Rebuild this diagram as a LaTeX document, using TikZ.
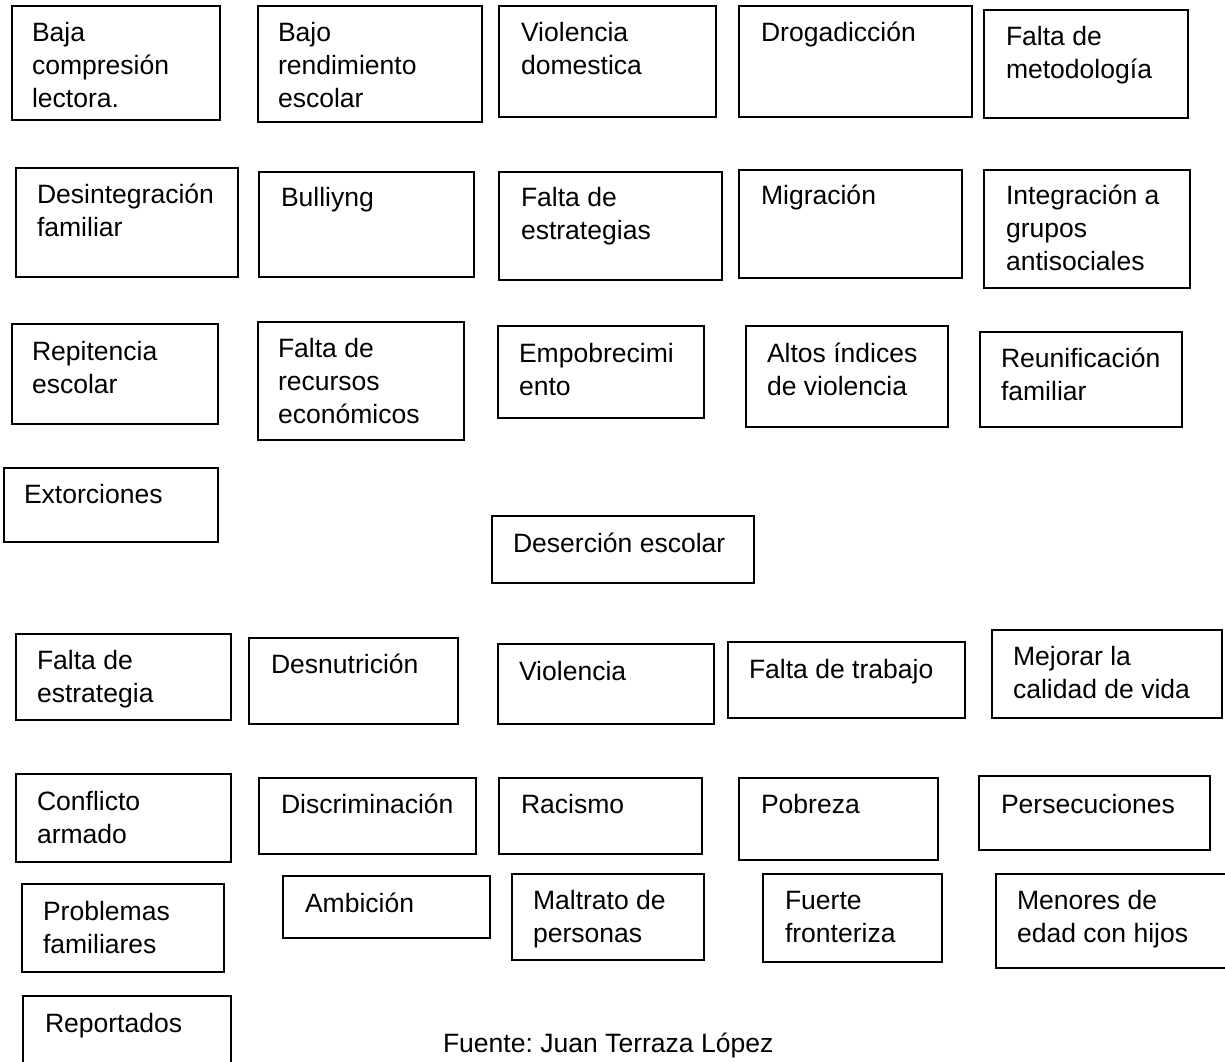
\documentclass[tikz,border=0pt]{standalone}
\usepackage{fontspec}
\setmainfont{Liberation Sans}
\usetikzlibrary{fit}
\tikzset{
  boxst/.style={draw=black, line width=1.3pt, rectangle, inner sep=0pt, outer sep=0pt},
  txtst/.style={inner sep=0pt, outer sep=0pt, align=left, text=black,
    font=\fontsize{19.9pt}{25.1pt}\selectfont\frenchspacing}
}
\newcommand{\mybox}[8]{%
  \node[boxst, fit={(#2,#3) (#4,#5)}] (#1) {};
  \node[txtst, anchor=north west] (#1t) at (#6,{#7-23.4}) {\strut #8};
}
\begin{document}
\begin{tikzpicture}[x=0.75pt, y=-0.75pt]
\path[use as bounding box] (0,0) rectangle (1225,1062);
\fill[white] (0,0) rectangle (1225,1062);
\clip (0,0) rectangle (1225,1062);
% row 1
\mybox{b1}{12}{6}{220}{120}{32}{41}{Baja\\compresión\\lectora.}
\mybox{b2}{258}{6}{482}{122}{278}{41}{Bajo\\rendimiento\\escolar}
\mybox{b3}{499}{6}{716}{117}{521}{41}{Violencia\\domestica}
\mybox{b4}{739}{6}{972}{117}{761}{41}{Drogadicción}
\mybox{b5}{984}{10}{1188}{118}{1006}{45}{Falta de\\metodología}
% row 2
\mybox{b6}{16}{168}{238}{277}{37}{203}{Desintegración\\familiar}
\mybox{b7}{259}{172}{474}{277}{281}{206}{Bulliyng}
\mybox{b8}{499}{172}{722}{280}{521}{206}{Falta de\\estrategias}
\mybox{b9}{739}{170}{962}{278}{761}{204}{Migración}
\mybox{b10}{984}{170}{1190}{288}{1006}{204}{Integración a\\grupos\\antisociales}
% row 3
\mybox{b11}{12}{324}{218}{424}{32}{360}{Repitencia\\escolar}
\mybox{b12}{258}{322}{464}{440}{278}{357}{Falta de\\recursos\\económicos}
\mybox{b13}{498}{326}{704}{418}{519}{362}{Empobrecimi\\ento}
\mybox{b14}{746}{326}{948}{427}{767}{362}{Altos índices\\de violencia}
\mybox{b15}{980}{332}{1182}{427}{1001}{367}{Reunificación\\familiar}
% middle
\mybox{b16}{4}{468}{218}{542}{24}{503}{Extorciones}
\mybox{b17}{492}{516}{754}{583}{513}{552}{Deserción escolar}
% row 4
\mybox{b18}{16}{634}{231}{720}{37}{669}{Falta de\\estrategia}
\mybox{b19}{249}{638}{458}{724}{271}{673}{Desnutrición}
\mybox{b20}{498}{644}{714}{724}{519}{680}{Violencia}
\mybox{b21}{728}{642}{965}{718}{749}{678}{Falta de trabajo}
\mybox{b22}{992}{630}{1222}{718}{1013}{665}{Mejorar la\\calidad de vida}
% row 5
\mybox{b23}{16}{774}{231}{862}{37}{810}{Conflicto\\armado}
\mybox{b24}{259}{778}{476}{854}{281}{813}{Discriminación}
\mybox{b25}{499}{778}{702}{854}{521}{813}{Racismo}
\mybox{b26}{739}{778}{938}{860}{761}{813}{Pobreza}
\mybox{b27}{979}{776}{1210}{850}{1001}{813}{Persecuciones}
% row 6
\mybox{b28}{22}{884}{224}{972}{43}{920}{Problemas\\familiares}
\mybox{b29}{283}{876}{490}{938}{305}{912}{Ambición}
\mybox{b30}{512}{874}{704}{960}{533}{909}{Maltrato de\\personas}
\mybox{b31}{763}{874}{942}{962}{785}{909}{Fuerte\\fronteriza}
\mybox{b32}{996}{874}{1232}{968}{1017}{909}{Menores de\\edad con hijos}
% row 7
\mybox{b33}{23}{996}{231}{1075}{45}{1032}{Reportados}
\node[txtst, anchor=north west] (src) at (443,{1052-23.4}) {\strut Fuente: Juan Terraza López};
\end{tikzpicture}
\end{document}
